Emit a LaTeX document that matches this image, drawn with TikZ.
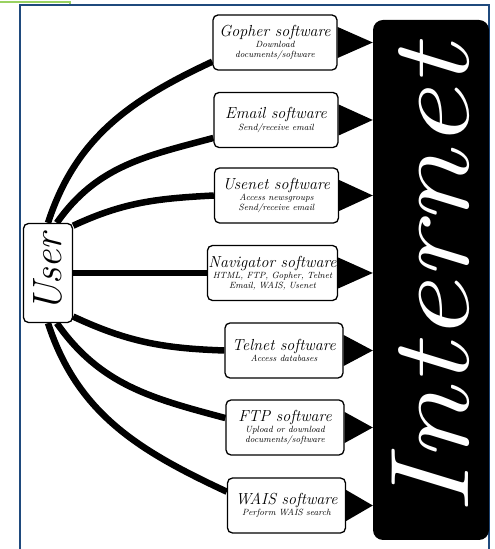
\documentclass[tikz,border=0pt]{standalone}
\usepackage{tikz}
\usetikzlibrary{backgrounds}
\usetikzlibrary{positioning}
\usepackage{graphicx}
\definecolor{FRAMEBLUE}{rgb}{0.12,0.29,0.49}
\definecolor{LIGHTGREEN}{rgb}{0.60,0.82,0.38}
\newcommand{\titlefont}{\fontsize{16}{17}\selectfont}
\newcommand{\notefont}{\fontsize{9}{10}\selectfont}
\tikzset{
softbox/.style={draw, line width=1.3pt, rounded corners=5pt, fill=white, minimum width=124pt, minimum height=55pt, inner sep=1pt, align=center, font=\itshape\notefont},
userbox/.style={draw, line width=1.3pt, rounded corners=5pt, fill=white, minimum width=49pt, minimum height=99pt, inner sep=0pt, font=\itshape\fontsize{41}{41}\selectfont},
netbox/.style={fill=black, rounded corners=10pt, minimum width=116pt, minimum height=520pt, inner sep=0pt, text=white, font=\itshape\fontsize{112}{112}\selectfont},
link/.style={line width=6.5pt},
}

\begin{document}
\begin{tikzpicture}[x=1pt,y=1pt]
\useasboundingbox (0,0) rectangle (495,549);
\draw[LIGHTGREEN, line width=1.5pt] (0,547) -- (70,547) -- (70,544);
\draw[FRAMEBLUE, line width=2pt] (20,-2) -- (20,544) -- (489,544) -- (489,-2); % frame

\node[netbox] (internet) at (431,269) {\rotatebox{90}{\scalebox{1.22}[1]{Internet}}};
\node[userbox] (user) at (48,276) {\rotatebox{90}{User}};

\node[softbox] (gopher) at (275,506.5) {{\titlefont Gopher software}\\[1pt] Download\\ documents/software};
\node[softbox] (email) at (276,429) {{\titlefont Email software}\\[1pt] Send/receive email};
\node[softbox] (usenet) at (276.5,353.5) {{\titlefont Usenet software}\\[1pt] Access newsgroups\\ Send/receive email};
\node[softbox, minimum width=129pt] (navigator) at (272.5,276) {{\titlefont Navigator software}\\[1pt] HTML, FTP, Gopher, Telnet\\ Email, WAIS, Usenet};
\node[softbox, minimum width=118pt] (telnet) at (284,198.5) {{\titlefont Telnet software}\\[1pt] Access databases};
\node[softbox, minimum width=118pt] (ftp) at (285,121.5) {{\titlefont FTP software}\\[1pt] Upload or download\\ documents/software};
\node[softbox, minimum width=118pt] (wais) at (286.5,43.5) {{\titlefont WAIS software}\\[1pt] Perform WAIS search};

\begin{scope}[on background layer]
\draw[link] (user.90) to[out=72,in=205] (gopher.197);
\draw[link] (user.80) to[out=55,in=195] (email.196);
\draw[link] (user.62) to[out=25,in=183] (usenet.west);
\draw[link] (user.east) -- (navigator.west);
\draw[link] (user.-60) to[out=-25,in=178] (telnet.west);
\draw[link] (user.-80) to[out=-55,in=165] (ftp.171);
\draw[link] (user.-90) to[out=-72,in=155] (wais.167);
\end{scope}

\foreach \s in {gopher,email,usenet,navigator,telnet,ftp,wais}
  \fill ([yshift=15.5pt]\s.east) -- (\s.east -| internet.west) -- ([yshift=-15.5pt]\s.east) -- cycle;
\end{tikzpicture}
\end{document}
